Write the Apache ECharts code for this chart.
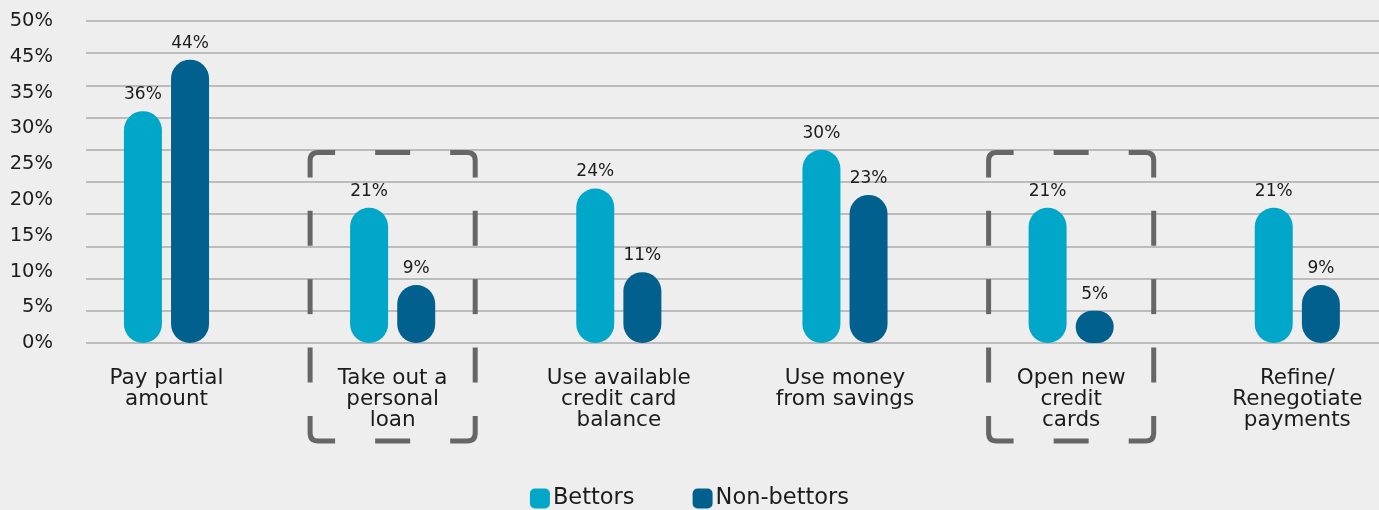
<!DOCTYPE html>
<html>
<head>
<meta charset="utf-8">
<script src="https://cdn.jsdelivr.net/npm/echarts@6/dist/echarts.min.js"></script>
<style>
  html, body { margin: 0; padding: 0; background: #eeeeee; }
  #chart { width: 1379px; height: 510px; }
</style>
</head>
<body>
<div id="chart"></div>
<script>
// Categories (line breaks are part of the axis labels)
const categories = [
  'Pay partial\namount',
  'Take out a\npersonal\nloan',
  'Use available\ncredit card\nbalance',
  'Use money\nfrom savings',
  'Open new\ncredit\ncards',
  'Refine/\nRenegotiate\npayments'
];
const bettors = [36, 21, 24, 30, 21, 21];
const nonBettors = [44, 9, 11, 23, 5, 9];
// Left-hand tick labels as printed on the axis
const yTickLabels = ['0%', '5%', '10%', '15%', '20%', '25%', '30%', '35%', '45%', '50%'];
// Categories framed by a dashed box
const highlighted = [1, 4];

const FONT = '"DejaVu Sans", sans-serif';
const TEXT = '#1c1c1c';
const LIGHT = '#00a7c9';
const DARK = '#02608e';

// Dashed rounded frame around a category, built from corner hooks and evenly spaced dashes
function renderFrame(params, api) {
  const idx = api.value(0);
  const base = api.coord([idx, 0]);
  const top = api.coord([idx, 29.6])[1];
  const bottom = base[1] + api.size([0, 15.2])[1];
  const w = api.size([1, 0])[0] * 0.73;
  const x0 = base[0] - w / 2, x1 = base[0] + w / 2;
  const y0 = top, y1 = bottom;
  const r = 8, arm = 25, dash = 35, period = 70;
  const style = { stroke: '#666666', lineWidth: 5, fill: null, lineCap: 'butt' };
  const children = [];
  const corner = (d) => children.push({ type: 'path', shape: { pathData: d }, style });
  corner(`M${x0} ${y0 + arm} L${x0} ${y0 + r} Q${x0} ${y0} ${x0 + r} ${y0} L${x0 + arm} ${y0}`);
  corner(`M${x1 - arm} ${y0} L${x1 - r} ${y0} Q${x1} ${y0} ${x1} ${y0 + r} L${x1} ${y0 + arm}`);
  corner(`M${x1} ${y1 - arm} L${x1} ${y1 - r} Q${x1} ${y1} ${x1 - r} ${y1} L${x1 - arm} ${y1}`);
  corner(`M${x0 + arm} ${y1} L${x0 + r} ${y1} Q${x0} ${y1} ${x0} ${y1 - r} L${x0} ${y1 - arm}`);
  const side = (ax, ay, bx, by) => {
    const len = Math.hypot(bx - ax, by - ay);
    const L = len - 2 * arm;
    const n = Math.max(0, Math.round((L - dash) / period));
    const gap = (L - n * dash) / (n + 1);
    const ux = (bx - ax) / len, uy = (by - ay) / len;
    for (let i = 0; i < n; i++) {
      const s = arm + gap + i * (dash + gap);
      children.push({
        type: 'line',
        shape: { x1: ax + ux * s, y1: ay + uy * s, x2: ax + ux * (s + dash), y2: ay + uy * (s + dash) },
        style
      });
    }
  };
  side(x0, y0, x1, y0);
  side(x0, y1, x1, y1);
  side(x0, y0, x0, y1);
  side(x1, y0, x1, y1);
  return { type: 'group', children };
}

const chart = echarts.init(document.getElementById('chart'), null, { renderer: 'canvas' });
const barLabel = {
  show: true,
  position: 'top',
  distance: 8,
  formatter: (p) => p.value + '%',
  color: TEXT,
  fontFamily: FONT,
  fontSize: 17
};

chart.setOption({
  backgroundColor: '#eeeeee',
  animation: false,
  textStyle: { fontFamily: FONT },
  grid: [
    { left: 86, right: 0, top: 21, bottom: 167, outerBoundsMode: 'none' },
    { left: 53.4, width: 1357, top: 21, bottom: 167, outerBoundsMode: 'none' }
  ],
  xAxis: [
    { gridIndex: 0, type: 'value', show: false, min: 0, max: 1 },
    {
      gridIndex: 1,
      type: 'category',
      data: categories,
      axisLine: { show: false },
      axisTick: { show: false },
      axisLabel: {
        interval: 0,
        margin: 25,
        color: TEXT,
        fontFamily: FONT,
        fontSize: 21.5,
        lineHeight: 21,
        align: 'center'
      }
    }
  ],
  yAxis: [
    {
      gridIndex: 0,
      type: 'value',
      position: 'right',
      min: 0,
      max: 50,
      interval: 5,
      axisLine: { show: false },
      axisTick: { show: false },
      axisLabel: { show: false },
      splitLine: { show: true, lineStyle: { color: '#bcbcbc', width: 2 } }
    },
    {
      gridIndex: 0,
      type: 'value',
      position: 'left',
      min: 0,
      max: yTickLabels.length - 1,
      interval: 1,
      axisLine: { show: false },
      axisTick: { show: false },
      splitLine: { show: false },
      axisLabel: {
        margin: 33,
        color: TEXT,
        fontFamily: FONT,
        fontSize: 19.5,
        formatter: (v) => yTickLabels[v]
      }
    },
    {
      gridIndex: 1,
      type: 'value',
      min: 0,
      max: 50,
      show: false
    }
  ],
  legend: {
    left: 'center',
    top: 487,
    padding: 0,
    icon: 'roundRect',
    itemWidth: 20,
    itemHeight: 20,
    itemGap: 58,
    textStyle: { color: TEXT, fontFamily: FONT, fontSize: 22.5, padding: [0, 0, 0, -2] },
    data: ['Bettors', 'Non-bettors']
  },
  series: [
    {
      name: 'Bettors',
      type: 'bar',
      xAxisIndex: 1,
      yAxisIndex: 2,
      data: bettors,
      barWidth: 38,
      barGap: '24%',
      itemStyle: { color: LIGHT, borderRadius: 19 },
      label: barLabel
    },
    {
      name: 'Non-bettors',
      type: 'bar',
      xAxisIndex: 1,
      yAxisIndex: 2,
      data: nonBettors,
      barWidth: 38,
      itemStyle: { color: DARK, borderRadius: 19 },
      label: barLabel
    },
    {
      type: 'custom',
      xAxisIndex: 1,
      yAxisIndex: 2,
      silent: true,
      z: 1,
      data: highlighted.map((i) => [i]),
      renderItem: renderFrame
    }
  ]
});
</script>
</body>
</html>
